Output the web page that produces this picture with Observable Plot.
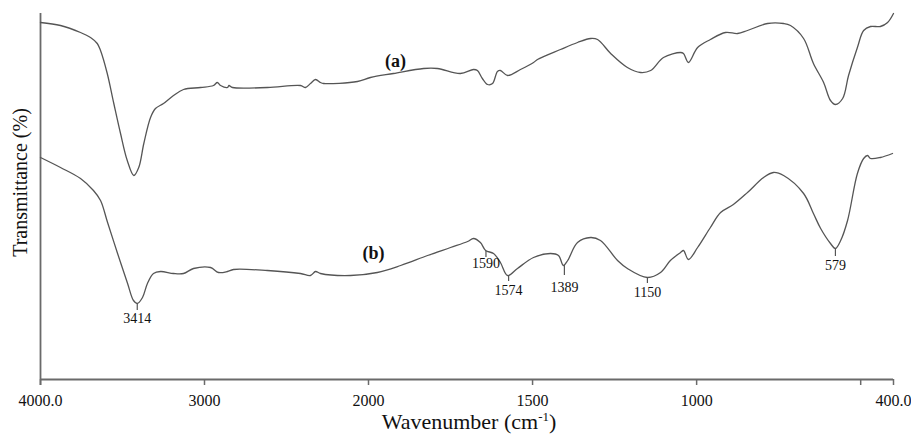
<!DOCTYPE html>
<html><head><meta charset="utf-8">
<script src="https://cdn.jsdelivr.net/npm/d3@7"></script>
<script src="https://cdn.jsdelivr.net/npm/@observablehq/plot@0.6"></script>
<style>body{margin:0;background:#fff;}</style>
</head><body><div id="chart"></div>
<script>
// Spectrum (a): wavenumber (cm-1) and transmittance (arbitrary, offset units)
const aWavenumber = [4000,3878,3756,3695,3654,3634,3593,3553,3512,3471,3431,3401,3370,3329,3299,3250,3189,3128,3024,2945,2922,2902,2860,2851,2829,2616,2415,2384,2354,2323,2293,2274,2067,1994,1924,1832,1790,1720,1680,1668,1653,1637,1622,1607,1598,1576,1537,1497,1485,1415,1363,1323,1302,1262,1211,1171,1140,1101,1049,1040,1025,997,958,912,875,845,784,735,714,674,644,613,592,577,555,537,510,491,470,440,418,400];
const aTransmittance = [357,354,347,342,336,329,306,276,246,219,204,212,236,262,271,276,284,290,292,294,297,294,292,294,292,292,294,292,296,300,297,296,298,302,306,311,311,306,310,309,301,295,296,308,309,304,310,317,320,330,337,341,340,326,312,307,309,322,327,326,317,332,340,347,346,349,356,356,354,341,316,297,279,275,281,304,332,349,353,353,357,366];
// Spectrum (b)
const bWavenumber = [4000,3878,3756,3677,3634,3591,3530,3469,3433,3410,3378,3348,3311,3268,3189,3128,3067,2963,2915,2860,2823,2616,2415,2354,2323,2293,2110,1973,1902,1820,1750,1698,1680,1659,1643,1619,1598,1576,1546,1497,1445,1421,1406,1393,1363,1323,1293,1241,1211,1150,1110,1080,1049,1040,1025,997,958,927,888,845,796,766,735,674,644,622,592,577,561,540,510,491,479,470,440,403];
const bTransmittance = [222,212,201,189,179,157,126,96,79,76,82,96,106,108,106,106,111,112,107,108,110,109,106,104,108,106,104,107,114,124,132,138,141,137,129,126,117,104,111,122,126,124,114,119,137,142,139,119,111,102,107,119,127,129,120,132,152,167,175,187,202,207,204,186,166,151,136,131,139,159,206,221,224,221,222,226];

// Peak annotations on (b)
const peakLabels = ["3414","1590","1574","1389","1150","579"];
const peakWavenumber = [3410,1642,1573,1403,1150,577];
const peakTop = [76,128,104,114,102,131];
const peakBottom = [69,122,98,104,96,123];
const peakTextLevel = [61,116,89,92,87,114];

// Curve labels
const curveNames = ["(a)","(b)"];
const curveNameWavenumber = [1918,1985];
const curveNameLevel = [318,126];

// Axis
const xTicks = [4000,3000,2000,1500,1000,500,400];
const xTickLabels = ["4000.0","3000","2000","1500","1000","","400.0"];
const xTitle = "Wavenumber (cm-1)";
const yTitle = "Transmittance (%)";

const a = aWavenumber.map((w,i)=>({w, t:aTransmittance[i]}));
const b = bWavenumber.map((w,i)=>({w, t:bTransmittance[i]}));
const peaks = peakLabels.map((l,i)=>({l, w:peakWavenumber[i], t1:peakTop[i], t2:peakBottom[i], tl:peakTextLevel[i]}));
const names = curveNames.map((n,i)=>({n, w:curveNameWavenumber[i], t:curveNameLevel[i]}));
const ticks = xTicks.map((w,i)=>({w, label:xTickLabels[i]}));

const ink = "#555";
const axisInk = "#6a6a6a";

const svg = Plot.plot({
  width: 911, height: 441,
  marginLeft: 40, marginRight: 18, marginTop: 13, marginBottom: 62,
  style: {fontFamily: "'Liberation Serif', 'DejaVu Serif', serif", fontSize: "16px", color: "#111", background: "#fff"},
  x: {type: "linear", domain: [4000, 2000, 400], range: [40, 368, 893], axis: null},
  y: {type: "linear", domain: [0, 366], range: [379, 13], axis: null},
  marks: [
    Plot.ruleY([0], {x1: 4000, x2: 400, stroke: axisInk, strokeWidth: 1.8}),
    Plot.ruleX([4000], {y1: -6, y2: 366, stroke: axisInk, strokeWidth: 1.8}),
    Plot.ruleX(ticks, {x: "w", y1: 0, y2: -6, stroke: axisInk, strokeWidth: 1.5}),
    Plot.text(ticks, {x: "w", y: -21, text: "label", fontSize: 16, fill: "#111"}),
    Plot.line(a, {x: "w", y: "t", stroke: ink, strokeWidth: 1.3, curve: "catmull-rom"}),
    Plot.line(b, {x: "w", y: "t", stroke: ink, strokeWidth: 1.3, curve: "catmull-rom"}),
    Plot.ruleX(peaks, {x: "w", y1: "t1", y2: "t2", stroke: ink, strokeWidth: 1.2}),
    Plot.text(peaks, {x: "w", y: "tl", text: "l", fontSize: 14, fill: "#111", fontWeight: 500}),
    Plot.text(names, {x: "w", y: "t", text: "n", fontSize: 18, fontWeight: "bold", fill: "#111"}),
    Plot.text([xTitle], {frameAnchor: "bottom", textAnchor: "middle", lineAnchor: "middle", dy: 42, dx: 2, fontSize: 22, fill: "#111"}),
    Plot.text([yTitle], {frameAnchor: "left", textAnchor: "middle", lineAnchor: "middle", dx: -20, dy: -14, rotate: -90, fontSize: 20, fill: "#111"})
  ]
});

// superscript for cm-1
d3.select(svg).selectAll("text").filter(function(){ return this.textContent === xTitle; }).each(function(){
  const t = d3.select(this);
  t.text(null);
  t.append("tspan").text("Wavenumber (cm");
  t.append("tspan").attr("dy", -8).attr("font-size", 13).text("-1");
  t.append("tspan").attr("dy", 8).text(")");
});

document.getElementById("chart").appendChild(svg);
</script>
</body></html>
